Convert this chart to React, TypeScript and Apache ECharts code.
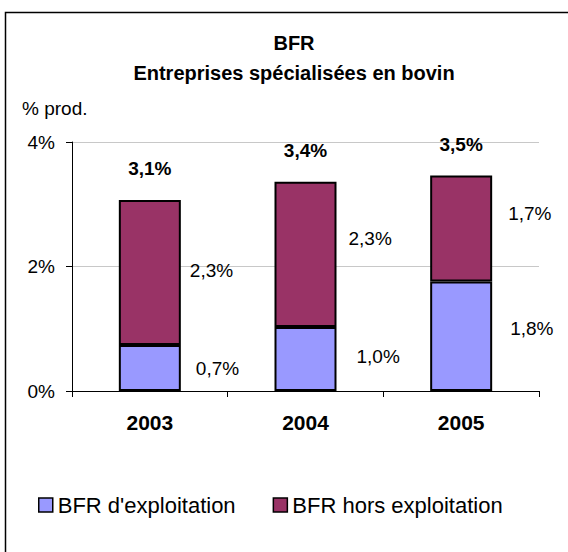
import React, { useEffect, useRef } from "react";
import * as echarts from "echarts";

const categories = ["2003", "2004", "2005"];
const bfrExploitation = [0.74, 1.03, 1.76];
const bfrHorsExploitation = [2.33, 2.33, 1.7];
const seriesNames = ["BFR d'exploitation", "BFR hors exploitation"];
const yMin = 0;
const yMax = 4;
const yInterval = 2;

// label placement tweaks (style only)
const exploitationLabelOffsets = [[15, 1], [20, -2], [18, -8]];
const horsLabelOffsets = [[9, -2], [12, -16], [16, -15]];

const FONT = "'Liberation Sans', Arial, sans-serif";
const fmt = (v: number) => v.toFixed(1).replace(".", ",") + "%";

export default function App() {
  const ref = useRef<HTMLDivElement>(null);
  useEffect(() => {
    document.body.style.margin = "0";
    if (!ref.current) return;
    const chart = echarts.init(ref.current, undefined, { renderer: "svg" });
    const totals = bfrExploitation.map((v, i) => v + bfrHorsExploitation[i]);
    chart.setOption({
      animation: false,
      backgroundColor: "#ffffff",
      textStyle: { fontFamily: FONT },
      grid: { left: 72, top: 142, width: 467, height: 249, containLabel: false },
      legend: {
        data: seriesNames,
        left: 38,
        top: 494,
        padding: 0,
        icon: "rect",
        itemWidth: 14,
        itemHeight: 14,
        itemGap: 37,
        itemStyle: { borderColor: "#000", borderWidth: 1.5 },
        textStyle: { fontSize: 22, color: "#000", fontFamily: FONT },
      },
      xAxis: {
        type: "category",
        data: categories,
        axisLine: { lineStyle: { color: "#000", width: 1 } },
        axisTick: { show: true, length: 6, lineStyle: { color: "#000" } },
        axisLabel: { fontSize: 21, fontWeight: "bold", color: "#000", margin: 21, fontFamily: FONT },
      },
      yAxis: {
        type: "value",
        min: yMin,
        max: yMax,
        interval: yInterval,
        axisLine: { show: true, lineStyle: { color: "#000", width: 1 } },
        axisTick: { show: true, length: 6, lineStyle: { color: "#000" } },
        axisLabel: { fontSize: 19, color: "#000", margin: 17, formatter: "{value}%", fontFamily: FONT },
        splitLine: { show: true, lineStyle: { color: "#c8c8c8", width: 1 } },
      },
      series: [
        {
          name: seriesNames[0],
          type: "bar",
          stack: "bfr",
          barWidth: 62,
          itemStyle: { color: "#9999ff", borderColor: "#000", borderWidth: 2 },
          label: {
            show: true,
            position: "right",
            distance: 0,
            fontSize: 19,
            color: "#000",
            fontFamily: FONT,
            formatter: (p: any) => fmt(p.value),
          },
          data: bfrExploitation.map((v, i) => ({ value: v, label: { offset: exploitationLabelOffsets[i] } })),
        },
        {
          name: seriesNames[1],
          type: "bar",
          stack: "bfr",
          barWidth: 62,
          itemStyle: { color: "#993366", borderColor: "#000", borderWidth: 2 },
          label: {
            show: true,
            position: "right",
            distance: 0,
            fontSize: 19,
            color: "#000",
            fontFamily: FONT,
            formatter: (p: any) => fmt(p.value),
          },
          data: bfrHorsExploitation.map((v, i) => ({ value: v, label: { offset: horsLabelOffsets[i] } })),
        },
        {
          name: "Total",
          type: "scatter",
          symbolSize: 2,
          itemStyle: { color: "rgba(0,0,0,0)" },
          silent: true,
          z: 10,
          label: {
            show: true,
            position: "inside",
            offset: [0, -31],
            fontSize: 19,
            fontWeight: "bold",
            color: "#000",
            opacity: 1,
            textBorderWidth: 0,
            fontFamily: FONT,
            formatter: (p: any) => fmt(p.value),
          },
          data: totals,
        },
      ],
      graphic: [
        {
          type: "rect",
          shape: { x: 5.5, y: 12.5, width: 600, height: 600 },
          style: { fill: "none", stroke: "#000", lineWidth: 1.5 },
          silent: true,
        },
        {
          type: "text",
          x: 294,
          y: 43,
          style: {
            text: "BFR",
            fontSize: 20,
            fontWeight: "bold",
            fontFamily: FONT,
            fill: "#000",
            textAlign: "center",
            textVerticalAlign: "middle",
          },
        },
        {
          type: "text",
          x: 294,
          y: 73,
          style: {
            text: "Entreprises spécialisées en bovin",
            fontSize: 20,
            fontWeight: "bold",
            fontFamily: FONT,
            fill: "#000",
            textAlign: "center",
            textVerticalAlign: "middle",
          },
        },
        {
          type: "text",
          x: 22,
          y: 108,
          style: {
            text: "% prod.",
            fontSize: 19,
            fontFamily: FONT,
            fill: "#000",
            textAlign: "left",
            textVerticalAlign: "middle",
          },
        },
      ],
    });
    return () => chart.dispose();
  }, []);
  return <div ref={ref} style={{ width: 568, height: 552 }} />;
}
